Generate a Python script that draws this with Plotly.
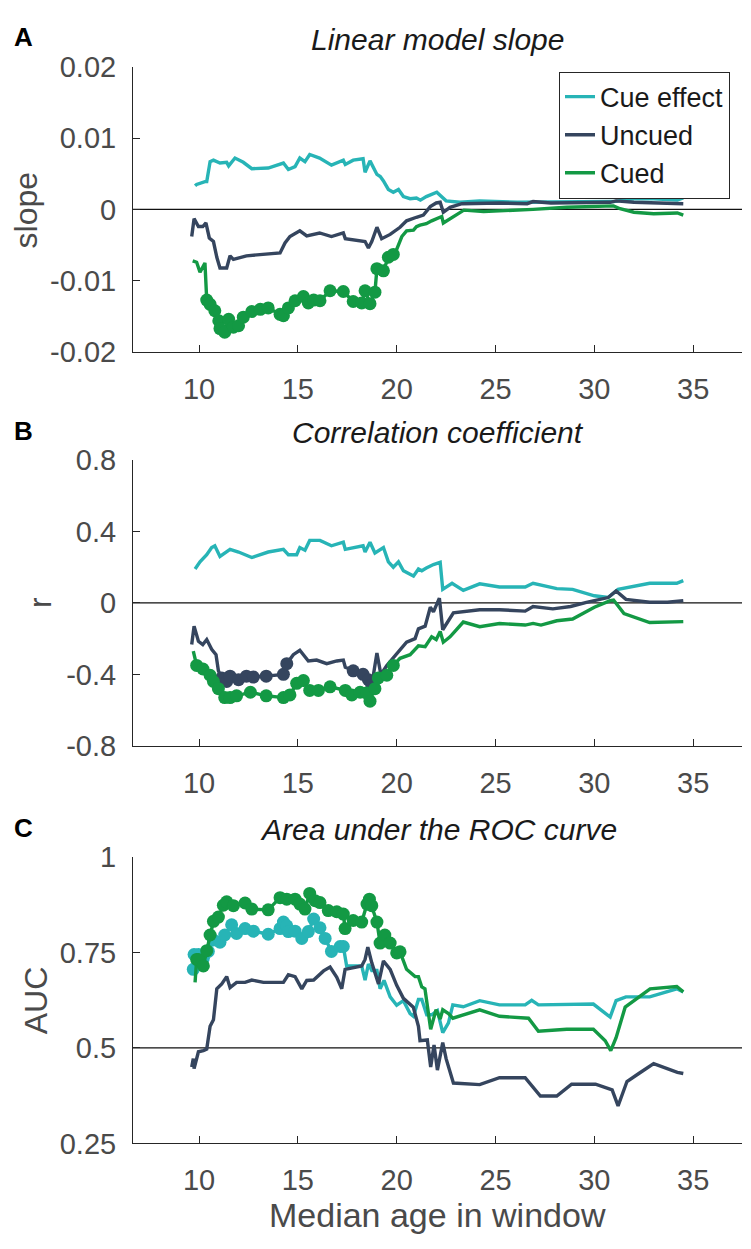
import plotly.graph_objects as go

W, H = 751, 1249
C_CUE = "#27B4B6"
C_UNC = "#35455E"
C_CUED = "#139944"
AX = "#262626"
TXT = "#4a4a4a"
FONT = "Liberation Sans"

# ---------------- Panel A: linear model slope ----------------
A_cue_x = [9.8, 9.88, 10.3, 10.39, 10.56, 10.73, 11.06, 11.4, 11.5, 11.82, 12.24, 12.67, 13.5, 14.27, 14.52, 14.86,
           15.1, 15.36, 15.6, 16.1, 16.7, 17.3, 17.4, 17.8, 18.3, 18.4, 18.65, 19.0, 19.17, 19.33, 19.58, 19.83,
           20.09, 20.34, 20.68, 21.0, 21.2, 21.5, 22.03, 22.28, 22.5, 23.2, 24.2, 26.1, 26.9, 28.6, 30.97, 32.0,
           33.0, 34.2, 34.5]
A_cue_y = [0.0033, 0.0035, 0.0039, 0.0039, 0.0067, 0.0069, 0.0065, 0.0066, 0.0061, 0.0072, 0.0066, 0.0057,
           0.0058, 0.0065, 0.0056, 0.0060, 0.0072, 0.0067, 0.0077, 0.0072, 0.0062, 0.0069, 0.0063, 0.0069, 0.0071,
           0.0052, 0.0068, 0.0049, 0.0046, 0.0040, 0.0028, 0.0024, 0.0028, 0.0018, 0.0015, 0.0016, 0.0013, 0.0018,
           0.0024, 0.0017, 0.0012, 0.0010, 0.0012, 0.0010, 0.0010, 0.0010, 0.0011, 0.0015, 0.0015, 0.0013, 0.0016]

A_unc_x = [9.63, 9.75, 9.97, 10.19, 10.35, 10.52, 10.73, 10.9, 11.06, 11.4, 11.57, 11.74, 12.4, 13.1, 14.1, 14.35,
           14.6, 15.1, 15.45, 16.1, 16.7, 17.3, 17.4, 18.4, 18.57, 18.74, 19.0, 19.24, 19.67, 20.17, 20.5, 21.0,
           21.35, 21.7, 22.0, 22.2, 22.36, 22.7, 23.3, 25.2, 26.6, 26.9, 27.8, 30.8, 31.1, 32.0, 34.5]
A_unc_y = [-0.0038, -0.0013, -0.0024, -0.0024, -0.0019, -0.0040, -0.0045, -0.0067, -0.0082, -0.0082, -0.0065,
           -0.0070, -0.0065, -0.0063, -0.0061, -0.0047, -0.0038, -0.0030, -0.0037, -0.0033, -0.0038, -0.0033,
           -0.0041, -0.0045, -0.0054, -0.0045, -0.0025, -0.0041, -0.0035, -0.0025, -0.0016, -0.0011, -0.0008,
           0.0004, 0.0009, 0.0010, -0.0004, 0.0003, 0.0008, 0.0009, 0.0008, 0.0011, 0.0009, 0.0010, 0.0012,
           0.0010, 0.0008]

A_cued_x = [9.68, 9.88, 10.05, 10.3, 10.39, 10.56, 10.8, 11.0, 11.06, 11.3, 11.5, 11.74, 12.0, 12.24, 12.67, 13.1,
            13.5, 14.1, 14.27, 14.52, 14.86, 15.28, 15.53, 15.8, 16.12, 16.63, 17.3, 17.8, 18.23, 18.4, 18.65,
            18.9, 19.0, 19.33, 19.58, 19.83, 20.0, 20.26, 20.5, 20.85, 21.0, 21.18, 21.5, 21.77, 22.0, 22.28,
            22.36, 22.7, 23.4, 24.4, 26.4, 26.9, 28.6, 30.97, 31.3, 32.0, 33.0, 34.2, 34.5]
A_cued_y = [-0.0072, -0.0074, -0.0088, -0.0075, -0.0127, -0.0133, -0.0142, -0.0156, -0.0167, -0.0172, -0.0154,
            -0.0165, -0.0163, -0.0151, -0.0143, -0.0140, -0.0138, -0.0147, -0.0149, -0.0138, -0.0128, -0.0122,
            -0.0131, -0.0127, -0.0128, -0.0114, -0.0115, -0.0129, -0.0131, -0.0114, -0.0132, -0.0116, -0.0083,
            -0.0086, -0.0067, -0.0063, -0.0056, -0.0038, -0.0030, -0.0029, -0.0024, -0.0022, -0.0020, -0.0016,
            -0.0013, -0.0010, -0.0019, -0.0013, -0.0001, -0.0003, -0.0001, 0.0000, 0.0003, 0.0005, 0.0001,
            -0.0004, -0.0006, -0.0005, -0.0008]

# ---------------- Panel B: correlation coefficient ----------------
B_cue_x = [9.8, 10.05, 10.39, 10.64, 10.8, 11.06, 11.57, 12.0, 12.67, 13.5, 14.27, 14.52, 14.94, 15.1, 15.36, 15.6,
           16.12, 16.7, 17.3, 17.4, 18.3, 18.4, 18.65, 18.9, 19.33, 19.58, 19.83, 20.09, 20.34, 20.68, 20.85, 21.1,
           21.27, 21.5, 21.86, 22.2, 22.33, 22.8, 23.37, 24.2, 25.2, 26.5, 26.9, 28.1, 28.9, 30.0, 30.7, 31.2,
           32.0, 32.8, 34.17, 34.5]
B_cue_y = [0.19, 0.23, 0.27, 0.31, 0.32, 0.26, 0.30, 0.285, 0.254, 0.285, 0.30, 0.27, 0.27, 0.31, 0.295, 0.35,
           0.35, 0.32, 0.34, 0.30, 0.32, 0.285, 0.34, 0.28, 0.31, 0.23, 0.20, 0.23, 0.18, 0.16, 0.15, 0.19, 0.18,
           0.195, 0.215, 0.227, 0.076, 0.11, 0.07, 0.107, 0.089, 0.089, 0.11, 0.08, 0.076, 0.04, 0.03, 0.076,
           0.094, 0.11, 0.11, 0.125]

B_unc_x = [9.63, 9.75, 9.97, 10.19, 10.39, 10.64, 10.86, 10.98, 11.15, 11.4, 11.57, 12.0, 12.4, 12.75, 13.4, 14.27,
           14.44, 14.77, 15.1, 15.53, 15.95, 16.46, 16.97, 17.3, 17.4, 17.8, 18.3, 18.57, 18.74, 19.0, 19.2, 19.5,
           19.83, 20.17, 20.5, 20.93, 21.1, 21.44, 21.7, 21.86, 22.16, 22.33, 22.87, 24.2, 25.2, 26.5, 26.9, 27.9,
           28.8, 29.6, 30.7, 31.1, 31.6, 32.8, 33.7, 34.5]
B_unc_y = [-0.233, -0.13, -0.215, -0.233, -0.205, -0.26, -0.29, -0.38, -0.42, -0.44, -0.41, -0.43, -0.41, -0.415,
           -0.41, -0.40, -0.34, -0.29, -0.265, -0.325, -0.32, -0.34, -0.325, -0.32, -0.36, -0.38, -0.40, -0.43,
           -0.46, -0.28, -0.40, -0.35, -0.305, -0.26, -0.22, -0.20, -0.145, -0.13, -0.024, -0.05, 0.027, -0.15,
           -0.056, -0.038, -0.038, -0.046, -0.02, -0.033, -0.02, 0.003, 0.03, 0.067, 0.02, 0.004, 0.004, 0.013]

B_cued_x = [9.71, 9.88, 10.2, 10.56, 10.73, 10.98, 11.3, 11.57, 11.9, 12.6, 13.4, 14.27, 14.6, 14.94, 15.28, 15.6,
            16.04, 16.63, 17.4, 17.73, 18.15, 18.48, 18.65, 18.9, 19.07, 19.5, 19.83, 20.17, 20.68, 21.1, 21.44,
            21.77, 22.0, 22.2, 22.36, 22.7, 23.37, 24.2, 25.2, 26.5, 26.9, 27.3, 28.1, 28.9, 30.0, 30.8, 30.97,
            31.5, 32.8, 34.5]
B_cued_y = [-0.27, -0.35, -0.37, -0.405, -0.44, -0.48, -0.53, -0.53, -0.52, -0.50, -0.52, -0.53, -0.515, -0.45,
            -0.435, -0.49, -0.49, -0.47, -0.49, -0.515, -0.50, -0.505, -0.55, -0.48, -0.42, -0.405, -0.35, -0.31,
            -0.29, -0.24, -0.245, -0.19, -0.205, -0.16, -0.22, -0.19, -0.107, -0.133, -0.115, -0.124, -0.115,
            -0.124, -0.10, -0.09, -0.024, 0.013, 0.016, -0.06, -0.11, -0.105]

# ---------------- Panel C: area under the ROC curve ----------------
C_cue_x = [9.71, 9.75, 9.97, 10.22, 10.47, 10.73, 11.06, 11.3, 11.65, 11.9, 12.33, 12.75, 13.5, 14.1, 14.27, 14.44,
           14.52, 14.86, 15.2, 15.53, 15.8, 16.12, 16.38, 16.7, 17.14, 17.3, 17.47, 18.23, 18.4, 18.57, 18.74,
           19.0, 19.16, 19.36, 19.67, 20.0, 20.34, 20.68, 20.85, 21.1, 21.27, 21.52, 21.77, 22.06, 22.33, 22.62,
           22.84, 23.37, 24.2, 25.2, 26.5, 26.83, 27.17, 28.6, 29.95, 30.8, 31.1, 31.6, 32.8, 34.17, 34.5]
C_cue_y = [0.706, 0.745, 0.745, 0.735, 0.753, 0.783, 0.777, 0.796, 0.823, 0.80, 0.813, 0.806, 0.798, 0.813, 0.83,
           0.82, 0.805, 0.806, 0.787, 0.805, 0.838, 0.815, 0.787, 0.753, 0.766, 0.766, 0.715, 0.715, 0.678, 0.72,
           0.703, 0.703, 0.655, 0.677, 0.634, 0.612, 0.624, 0.59, 0.583, 0.627, 0.627, 0.587, 0.587, 0.598, 0.54,
           0.566, 0.613, 0.608, 0.624, 0.613, 0.613, 0.625, 0.613, 0.613, 0.615, 0.581, 0.624, 0.634, 0.634,
           0.655, 0.647]

C_unc_x = [9.63, 9.71, 9.75, 9.97, 10.22, 10.39, 10.56, 10.73, 10.9, 11.15, 11.4, 11.57, 11.9, 12.33, 12.67, 13.26,
           14.27, 14.52, 14.86, 15.2, 15.45, 15.8, 16.3, 16.63, 16.97, 17.22, 17.39, 18.23, 18.4, 18.54, 18.74,
           19.08, 19.33, 19.67, 20.0, 20.34, 20.84, 21.1, 21.18, 21.43, 21.55, 21.72, 21.89, 22.06, 22.33, 22.5,
           22.87, 24.2, 25.2, 26.5, 27.27, 28.1, 28.85, 30.06, 30.9, 31.2, 31.65, 32.25, 33.0, 34.2, 34.5]
C_unc_y = [0.45, 0.472, 0.446, 0.49, 0.493, 0.497, 0.557, 0.574, 0.655, 0.668, 0.687, 0.658, 0.672, 0.672, 0.678,
           0.672, 0.672, 0.692, 0.687, 0.655, 0.677, 0.678, 0.702, 0.712, 0.685, 0.655, 0.706, 0.715, 0.732, 0.764,
           0.723, 0.668, 0.728, 0.706, 0.664, 0.63, 0.607, 0.557, 0.519, 0.521, 0.521, 0.45, 0.508, 0.442, 0.514,
           0.472, 0.408, 0.404, 0.422, 0.422, 0.374, 0.374, 0.405, 0.405, 0.39, 0.348, 0.412, 0.433, 0.459, 0.436,
           0.433]

C_cued_x = [9.8, 9.88, 9.97, 10.22, 10.39, 10.56, 10.73, 10.98, 11.23, 11.4, 11.74, 12.33, 12.67, 13.5, 14.1, 14.44,
            14.86, 15.1, 15.36, 15.6, 15.87, 16.12, 16.54, 16.97, 17.3, 17.39, 17.8, 18.23, 18.5, 18.62, 18.74,
            19.0, 19.16, 19.4, 19.67, 20.0, 20.17, 20.5, 20.93, 21.1, 21.27, 21.43, 21.72, 21.99, 22.2, 22.33,
            22.62, 22.84, 24.2, 25.2, 26.67, 27.17, 28.6, 29.95, 30.55, 30.83, 31.1, 31.56, 32.82, 34.17, 34.5]
C_cued_y = [0.672, 0.732, 0.732, 0.715, 0.755, 0.796, 0.832, 0.843, 0.874, 0.883, 0.873, 0.88, 0.864, 0.862, 0.894,
            0.89, 0.89, 0.877, 0.864, 0.905, 0.886, 0.881, 0.86, 0.857, 0.851, 0.813, 0.834, 0.83, 0.877, 0.89,
            0.873, 0.83, 0.775, 0.796, 0.775, 0.749, 0.752, 0.706, 0.687, 0.687, 0.66, 0.655, 0.549, 0.6, 0.576,
            0.6, 0.59, 0.578, 0.6, 0.583, 0.578, 0.544, 0.549, 0.549, 0.519, 0.493, 0.527, 0.607, 0.655, 0.661,
            0.647]

# significant windows (x ranges drawn with filled markers)
A_cued_sig = [(10.35, 19.9)]
B_unc_sig = [(11.0, 14.45), (17.75, 18.8)]
B_cued_sig = [(9.85, 20.1)]
C_cue_sig = [(9.7, 17.35)]
C_cued_sig = [(9.85, 20.2)]

series_names = ["Cue effect", "Uncued", "Cued"]
panel_titles = ["Linear model slope", "Correlation coefficient", "Area under the ROC curve"]
panel_letters = ["A", "B", "C"]
y_labels = ["slope", "r", "AUC"]
y_ranges = [[-0.02, 0.02], [-0.8, 0.8], [0.25, 1.0]]
y_ticks = [[-0.02, -0.01, 0, 0.01, 0.02], [-0.8, -0.4, 0, 0.4, 0.8], [0.25, 0.5, 0.75, 1]]
y_ticktext = [["-0.02", "-0.01", "0", "0.01", "0.02"], ["-0.8", "-0.4", "0", "0.4", "0.8"],
              ["0.25", "0.5", "0.75", "1"]]
ref_levels = [0, 0, 0.5]
x_ticks = [10, 15, 20, 25, 30, 35]
x_range = [6.66, 37.47]

panels = [
    [(A_cue_x, A_cue_y, []), (A_unc_x, A_unc_y, []), (A_cued_x, A_cued_y, A_cued_sig)],
    [(B_cue_x, B_cue_y, []), (B_unc_x, B_unc_y, B_unc_sig), (B_cued_x, B_cued_y, B_cued_sig)],
    [(C_cue_x, C_cue_y, C_cue_sig), (C_unc_x, C_unc_y, []), (C_cued_x, C_cued_y, C_cued_sig)],
]
colors = [C_CUE, C_UNC, C_CUED]

# layout geometry in pixels (top, bottom of each plot area)
px_left, px_right = 133, 742
panel_px = [(52, 345), (455.7, 749), (863.3, 1157)]


def px2x(p):
    return p / W


def px2y(p):
    return 1 - p / H


fig = go.Figure()
for pi, series in enumerate(panels):
    sfx = "" if pi == 0 else str(pi + 1)
    for si, (xs, ys, sig) in enumerate(series):
        fig.add_trace(go.Scatter(
            x=xs, y=ys, mode="lines", name=series_names[si],
            line=dict(color=colors[si], width=3.4),
            showlegend=(pi == 0), legendrank=si + 1,
            xaxis="x" + sfx, yaxis="y" + sfx, hoverinfo="skip"))
        if sig:
            mx, my = [], []
            for xv, yv in zip(xs, ys):
                if any(a <= xv <= b for a, b in sig):
                    mx.append(xv)
                    my.append(yv)
            fig.add_trace(go.Scatter(
                x=mx, y=my, mode="markers", showlegend=False,
                marker=dict(color=colors[si], size=13, line=dict(width=0)),
                xaxis="x" + sfx, yaxis="y" + sfx, hoverinfo="skip"))

layout = dict(
    width=W, height=H, margin=dict(l=0, r=0, t=0, b=0),
    paper_bgcolor="white", plot_bgcolor="white",
    font=dict(family=FONT, color=TXT),
    showlegend=True,
    legend=dict(x=px2x(559), y=px2y(57), xanchor="left", yanchor="top",
                bordercolor=AX, borderwidth=1, bgcolor="white",
                font=dict(family=FONT, size=27, color="#1a1a1a"),
                itemwidth=30, tracegroupgap=0),
)
annotations = []
shapes = []
for pi in range(3):
    sfx = "" if pi == 0 else str(pi + 1)
    top, bot = panel_px[pi]
    layout["xaxis" + sfx] = dict(
        domain=[px2x(px_left), px2x(px_right)], anchor="y" + sfx, range=x_range,
        tickvals=x_ticks, ticks="inside", ticklen=7, tickwidth=1, tickcolor=AX,
        showline=True, linecolor=AX, linewidth=1, showgrid=False, zeroline=False,
        tickfont=dict(family=FONT, size=29, color=TXT), ticklabelstandoff=11)
    layout["yaxis" + sfx] = dict(
        domain=[px2y(bot), px2y(top)], anchor="x" + sfx, range=y_ranges[pi],
        tickvals=y_ticks[pi], ticktext=y_ticktext[pi], ticks="inside", ticklen=7, tickwidth=1,
        tickcolor=AX, showline=True, linecolor=AX, linewidth=1, showgrid=False, zeroline=False,
        tickfont=dict(family=FONT, size=29, color=TXT), ticklabelstandoff=10)
    shapes.append(dict(type="line", xref="x" + sfx + " domain", yref="y" + sfx,
                       x0=0, x1=1, y0=ref_levels[pi], y1=ref_levels[pi],
                       line=dict(color="#111111", width=1.3), layer="below"))
    # panel title
    annotations.append(dict(text="<i>" + panel_titles[pi] + "</i>", x=px2x(438), y=px2y(top - 28),
                            xref="paper", yref="paper", xanchor="center", yanchor="middle",
                            showarrow=False, font=dict(family=FONT, size=30, color="#1a1a1a")))
    # panel letter
    annotations.append(dict(text="<b>" + panel_letters[pi] + "</b>", x=px2x(12), y=px2y(top - 30),
                            xref="paper", yref="paper", xanchor="left", yanchor="middle",
                            showarrow=False, font=dict(family=FONT, size=26, color="black")))
    # y label
    ylab_x = [26, 40, 36][pi]
    annotations.append(dict(text=y_labels[pi], x=px2x(ylab_x), y=px2y((top + bot) / 2),
                            xref="paper", yref="paper", xanchor="center", yanchor="middle",
                            textangle=-90, showarrow=False,
                            font=dict(family=FONT, size=32, color=TXT)))

annotations.append(dict(text="Median age in window", x=px2x(437), y=px2y(1231),
                        xref="paper", yref="paper", xanchor="center", yanchor="middle",
                        showarrow=False, font=dict(family=FONT, size=34, color=TXT)))
layout["annotations"] = annotations
layout["shapes"] = shapes
fig.update_layout(**layout)
fig.write_html("out.html")
